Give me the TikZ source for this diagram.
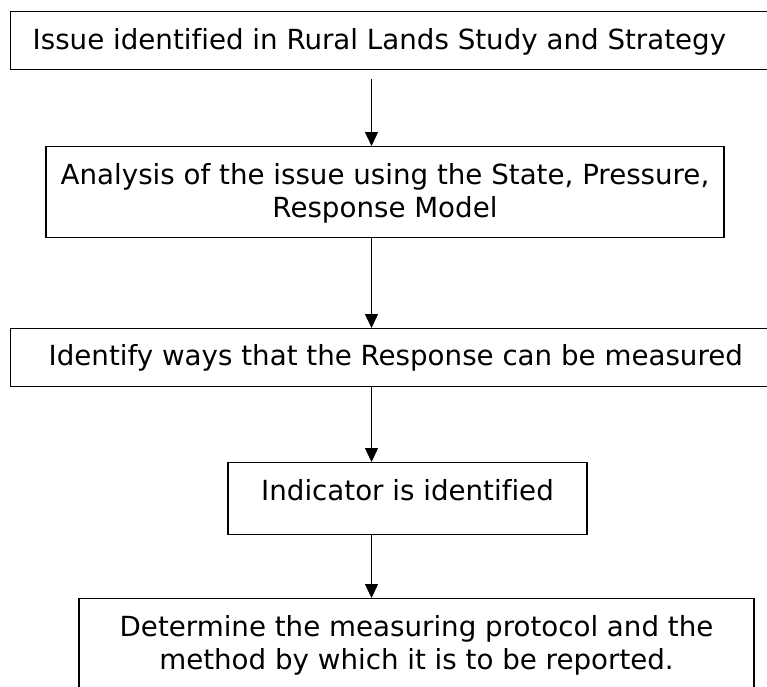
\documentclass[tikz,border=0pt]{standalone}
\usepackage{fontspec}
\setmainfont[Ligatures=NoCommon]{DejaVu Sans}
\usetikzlibrary{arrows.meta,positioning,calc}

\begin{document}
\begin{tikzpicture}[x=1pt,y=-1pt,>={Triangle[width=13pt,length=14pt]},
 font=\fontsize{27.7pt}{33pt}\selectfont,
 box/.style={draw,line width=1.4pt,inner sep=0pt,text height=38pt},
 link/.style={->,line width=1.3pt}]
 \useasboundingbox (0,0) rectangle (767,686);
 \clip (0,0) rectangle (767,686);
 \coordinate (spine) at (371.5,0);
 \node[box,anchor=north west,text depth=20pt] (issue) at (10,11)
  {\makebox[800pt][l]{\hspace{22pt}Issue identified in Rural Lands Study and Strategy}};
 \node[box,anchor=north,minimum width=678pt,text depth=53pt] (analysis) at (385,146)
  {\begin{tabular}[t]{@{}c@{}}Analysis of the issue using the State, Pressure,\\Response Model\end{tabular}};
 \node[box,anchor=north west,text height=37pt,text depth=21pt] (ways) at (10,328)
  {\makebox[800pt][l]{\hspace{38pt}Identify ways that the Response can be measured}};
 \node[box,anchor=north,minimum width=359pt,text depth=34pt] (indicator) at (407.5,462)
  {Indicator is identified};
 \node[box,anchor=north,minimum width=675pt,text depth=56pt] (protocol) at (416.5,598)
  {\begin{tabular}[t]{@{}c@{}}Determine the measuring protocol and the\\method by which it is to be reported.\end{tabular}};
 \draw[link] ([yshift=-9pt]issue.south -| spine) -- (analysis.north -| spine);
 \draw[link] (analysis.south -| spine) -- (ways.north -| spine);
 \draw[link] (ways.south -| spine) -- (indicator.north -| spine);
 \draw[link] (indicator.south -| spine) -- (protocol.north -| spine);
\end{tikzpicture}
\end{document}
